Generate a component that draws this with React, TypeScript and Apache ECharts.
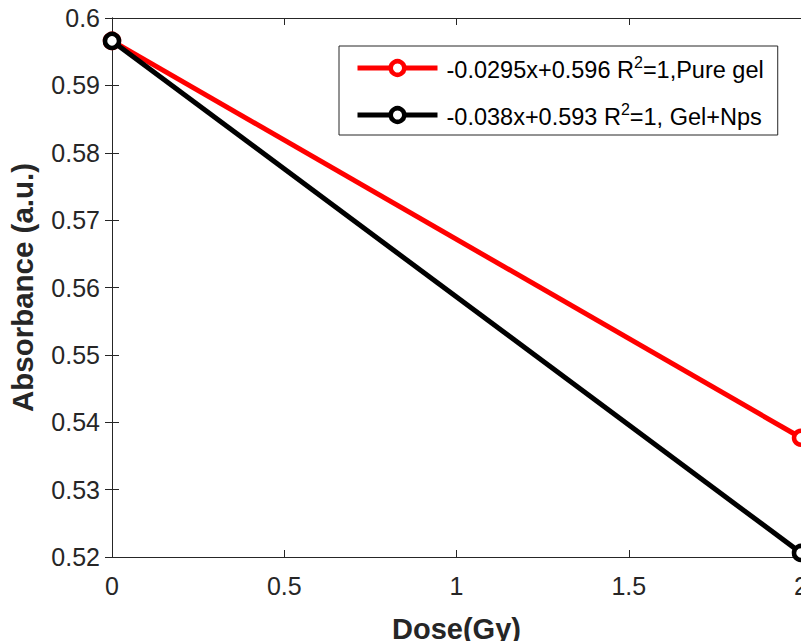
import React, { useEffect, useRef } from "react";
import * as echarts from "echarts";

const doses = [0, 2];
const pureGel = [0.5966, 0.5377];
const gelNps = [0.5966, 0.5206];
const seriesNames = [
  "{f|-0.0295x+0.596 R}{s|2}{t|=1,Pure gel}",
  "{f|-0.038x+0.593 R}{s|2}{t|=1, Gel+Nps}",
];
const seriesColors = ["#ff0000", "#000000"];
const FONT = "'Liberation Sans', Arial, Helvetica, sans-serif";
const AX = "#262626";

export default function App() {
  const ref = useRef<HTMLDivElement>(null);
  useEffect(() => {
    const chart = echarts.init(ref.current!, null, { renderer: "svg" });
    const mk = (vals: number[]) => doses.map((d, i) => [d, vals[i]]);
    const common = {
      min: 0,
      max: 2,
      interval: 0.5,
    };
    const tStyle = { fontSize: 23.5, fontFamily: FONT, color: "#000", lineHeight: 28, verticalAlign: "bottom" };
    chart.setOption({
      animation: false,
      backgroundColor: "#ffffff",
      textStyle: { fontFamily: FONT },
      grid: { left: 112, right: 0, top: 18, bottom: 84, outerBoundsMode: "none", containLabel: false },
      legend: {
        orient: "vertical",
        left: 339,
        top: 46,
        padding: [8, 14, 6, 16],
        itemGap: 19,
        itemWidth: 80,
        itemHeight: 17,
        backgroundColor: "#ffffff",
        borderColor: "#262626",
        borderWidth: 1,
        borderRadius: 0,
        lineStyle: { width: 5 },
        itemStyle: { borderWidth: 4.5, color: "#ffffff" },
        data: seriesNames,
        textStyle: {
          fontFamily: FONT,
          color: "#000",
          rich: {
            f: { ...tStyle, padding: [0, 0, 0, 4] },
            t: tStyle,
            s: { fontSize: 16, fontFamily: FONT, color: "#000", verticalAlign: "top", lineHeight: 16 },
          },
        },
      },
      xAxis: [
        {
          type: "value",
          ...common,
          position: "bottom",
          name: "Dose(Gy)",
          nameLocation: "middle",
          nameGap: 57,
          nameTextStyle: { fontSize: 29, fontWeight: "bold", color: AX, fontFamily: FONT },
          axisLine: { show: true, lineStyle: { color: AX, width: 1 } },
          axisTick: { show: true, inside: true, length: 7, lineStyle: { color: AX } },
          axisLabel: { fontSize: 25, color: AX, margin: 16, fontFamily: FONT },
          splitLine: { show: false },
        },
        {
          type: "value",
          ...common,
          position: "top",
          axisLine: { show: true, lineStyle: { color: AX, width: 1 } },
          axisTick: { show: true, inside: true, length: 7, lineStyle: { color: AX } },
          axisLabel: { show: false },
          splitLine: { show: false },
        },
      ],
      yAxis: [
        {
          type: "value",
          min: 0.52,
          max: 0.6,
          interval: 0.01,
          position: "left",
          name: "Absorbance (a.u.)",
          nameLocation: "middle",
          nameGap: 75,
          nameTextStyle: { fontSize: 29.5, fontWeight: "bold", color: AX, fontFamily: FONT },
          axisLine: { show: true, lineStyle: { color: AX, width: 1 } },
          axisTick: { show: true, inside: true, length: 7, lineStyle: { color: AX } },
          axisLabel: {
            fontSize: 25,
            color: AX,
            margin: 12,
            fontFamily: FONT,
            formatter: (v: number) => String(parseFloat(v.toFixed(2))),
          },
          splitLine: { show: false },
        },
        {
          type: "value",
          min: 0.52,
          max: 0.6,
          interval: 0.01,
          position: "right",
          axisLine: { show: true, lineStyle: { color: AX, width: 1 } },
          axisTick: { show: true, inside: true, length: 7, lineStyle: { color: AX } },
          axisLabel: { show: false },
          splitLine: { show: false },
        },
      ],
      series: [pureGel, gelNps].map((vals, i) => ({
        type: "line",
        name: seriesNames[i],
        data: mk(vals),
        xAxisIndex: 0,
        yAxisIndex: 0,
        symbol: "circle",
        symbolSize: 14,
        showSymbol: true,
        clip: false,
        lineStyle: { color: seriesColors[i], width: 5 },
        itemStyle: { color: "#ffffff", borderColor: seriesColors[i], borderWidth: 4.5 },
        z: 2 + i,
      })),
    });
    return () => chart.dispose();
  }, []);
  return (
    <div
      ref={ref}
      style={{ position: "absolute", left: 0, top: 0, width: 801, height: 641, background: "#fff" }}
    />
  );
}
